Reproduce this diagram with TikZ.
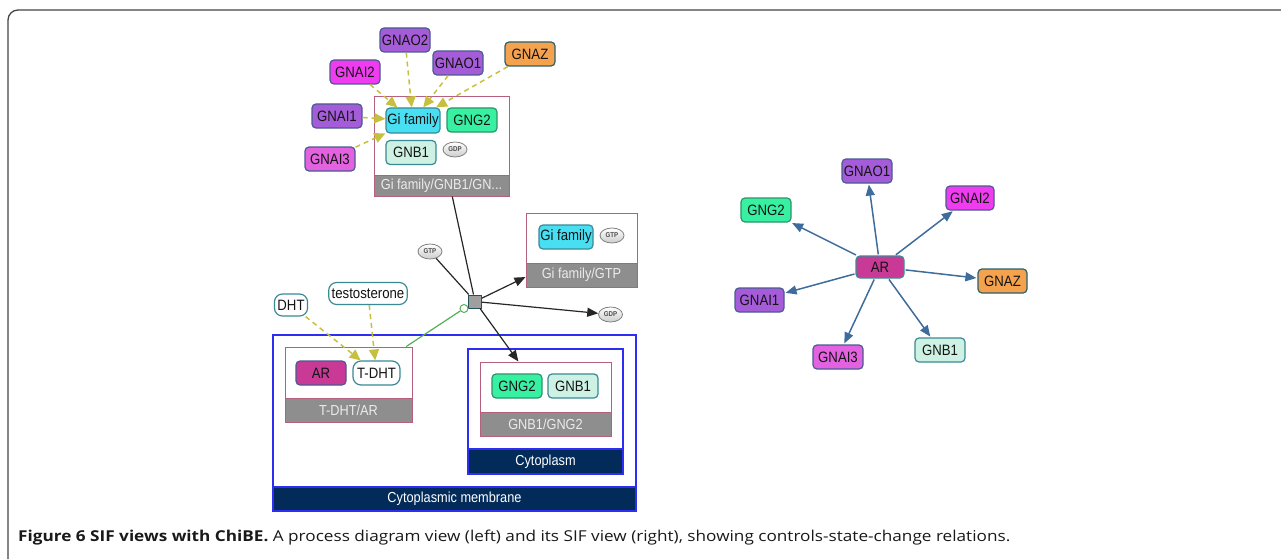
\documentclass[tikz,border=0pt]{standalone}
\usepackage{fontspec}
\usepackage{graphicx}
\usetikzlibrary{arrows.meta,shapes.geometric}
\newfontfamily\diag[FakeStretch=0.88]{Liberation Sans}
\newfontfamily\capfont{Open Sans}
\definecolor{cpurp}{HTML}{A45CD8}
\definecolor{cmag}{HTML}{F03CF0}
\definecolor{cpink}{HTML}{E262E0}
\definecolor{corange}{HTML}{F5A24F}
\definecolor{ccyan}{HTML}{48DFF2}
\definecolor{cgreen}{HTML}{38F0A2}
\definecolor{cmint}{HTML}{CDF1E2}
\definecolor{car}{HTML}{C93A96}
\definecolor{bdblue}{HTML}{4B5A92}
\definecolor{bdteal}{HTML}{3A8A96}
\definecolor{bdgreen}{HTML}{2C9468}
\definecolor{cplxbd}{HTML}{B4607E}
\definecolor{bandgrey}{HTML}{8E8E8E}
\definecolor{compbd}{HTML}{2E2EF2}
\definecolor{navy}{HTML}{022B5A}
\definecolor{olive}{HTML}{C7C03E}
\definecolor{sifblue}{HTML}{3E6C9C}
\definecolor{pgreen}{HTML}{55B055}
\definecolor{framegrey}{HTML}{444444}
\tikzset{
  mol/.style={rectangle, rounded corners=4pt, minimum width=50pt, minimum height=24pt,
    inner sep=0pt, line width=1.2pt, font=\diag\fontsize{15}{15}\selectfont, text=black!92},
  smallmol/.style={rectangle, rounded corners=8pt, minimum height=22pt, inner sep=3pt,
    line width=1.2pt, draw=bdteal, fill=white, font=\diag\fontsize{15}{15}\selectfont, text=black!92},
  cofactor/.style={ellipse, minimum width=24pt, minimum height=15pt, inner sep=0pt,
    draw=gray, line width=0.8pt, top color=white, bottom color=gray!40,
    font=\diag\fontsize{7}{7}\selectfont\bfseries, text=black!70},
  cplx/.style={rectangle, draw=cplxbd, line width=1pt, fill=white, inner sep=0pt},
  band/.style={rectangle, draw=cplxbd, line width=1pt, fill=bandgrey, inner sep=0pt,
    text=white!92!black, font=\diag\fontsize{14.5}{14.5}\selectfont},
  comp/.style={rectangle, draw=compbd, line width=1.2pt, fill=white, inner sep=0pt},
  compband/.style={rectangle, draw=compbd, line width=1.2pt, fill=navy, inner sep=0pt,
    text=white, font=\diag\fontsize{14.5}{14.5}\selectfont},
  dashedge/.style={draw=olive, line width=1.5pt, dash pattern=on 5pt off 4pt,
    -{Triangle[length=11pt,width=10pt,fill=olive]}},
  blackedge/.style={draw=black!85, line width=1.2pt},
  blackarrow/.style={blackedge, -{Triangle[length=11pt,width=9pt]}},
  sifedge/.style={draw=sifblue, line width=1.5pt, -{Triangle[length=11pt,width=9pt]}, shorten >=1pt, shorten <=1pt},
}
\begin{document}
\begin{tikzpicture}[x=1pt,y=-1pt]
\useasboundingbox (0,0) rectangle (1281,559);
% frame
\draw[framegrey, line width=1.3pt] (8,559) -- (8,20) arc[start angle=180, end angle=270, radius=10] -- (1281,10);

% compartments
\node[comp, minimum width=363, minimum height=176] (memb) at (454.5,423) {};
\node[compband, minimum width=363, minimum height=24, anchor=south] (membl) at (memb.south) {Cytoplasmic membrane};
\node[comp, minimum width=155, minimum height=125] (cyto) at (545.5,411.5) {};
\node[compband, minimum width=155, minimum height=25, anchor=south] (cytol) at (cyto.south) {Cytoplasm};

% complexes
\node[cplx, minimum width=135, minimum height=99] (c1) at (441.5,146.5) {};
\node[band, minimum width=135, minimum height=21, anchor=south] (c1l) at (c1.south) {Gi family/GNB1/GN...};
\node[cplx, minimum width=111, minimum height=74] (c2) at (581.5,250) {};
\node[band, minimum width=111, minimum height=24, anchor=south] (c2l) at (c2.south) {Gi family/GTP};
\node[cplx, minimum width=127, minimum height=75] (c3) at (348.5,384.5) {};
\node[band, minimum width=127, minimum height=24, anchor=south] (c3l) at (c3.south) {T-DHT/AR};
\node[cplx, minimum width=131, minimum height=74] (c4) at (545.5,399) {};
\node[band, minimum width=131, minimum height=24, anchor=south] (c4l) at (c4.south) {GNB1/GNG2};

% left molecules
\node[mol, fill=cpurp, draw=bdblue] (gnao2) at (405,40) {GNAO2};
\node[mol, fill=cmag, draw=bdblue] (gnai2) at (355,72) {GNAI2};
\node[mol, fill=cpurp, draw=bdblue] (gnao1) at (458,63) {GNAO1};
\node[mol, fill=corange, draw=bdteal!70!black] (gnaz) at (530,54) {GNAZ};
\node[mol, fill=cpurp, draw=bdblue] (gnai1) at (337,116) {GNAI1};
\node[mol, fill=cpink, draw=bdblue] (gnai3) at (330,159) {GNAI3};
\node[mol, fill=ccyan, draw=bdteal, minimum width=54pt, minimum height=25pt] (gif) at (413,120.5) {Gi family};
\node[mol, fill=cgreen, draw=bdgreen] (gng2a) at (472,120) {GNG2};
\node[mol, fill=cmint, draw=bdteal] (gnb1a) at (411,152.5) {GNB1};
\node[cofactor] (gdp1) at (455,149.5) {GDP};

\node[mol, fill=ccyan, draw=bdteal, minimum width=54pt] (gif2) at (566,237) {Gi family};
\node[cofactor] (gtp2) at (612,235.5) {GTP};
\node[cofactor] (gtp) at (430,251.5) {GTP};
\node[cofactor] (gdp2) at (610.5,314.5) {GDP};

\node[smallmol, minimum width=32pt] (dht) at (291,305) {DHT};
\node[smallmol, minimum width=78pt] (testo) at (368,293.5) {testosterone};
\node[mol, fill=car, draw=bdblue] (ara) at (321,373) {AR};
\node[smallmol, minimum width=47pt, minimum height=24pt, inner sep=0pt] (tdht) at (376.5,373) {T-DHT};
\node[mol, fill=cgreen, draw=bdgreen] (gng2b) at (517,386) {GNG2};
\node[mol, fill=cmint, draw=bdteal] (gnb1b) at (573,386) {GNB1};

% process
\node[rectangle, draw=bdteal!60!black, fill=gray!75, line width=1pt, minimum size=13pt, inner sep=0pt] (proc) at (475,301.5) {};
\node[circle, draw=pgreen, fill=white, line width=1pt, minimum size=8pt, inner sep=0pt] (ctl) at (464,308.5) {};

% left edges
\draw[dashedge] (gnao2) -- (gif);
\draw[dashedge] (gnai2) -- (gif);
\draw[dashedge] (gnao1) -- (gif);
\draw[dashedge] (gnaz) -- (gif);
\draw[dashedge] (gnai1) -- (gif);
\draw[dashedge] (gnai3) -- (gif);
\draw[dashedge] (dht) -- (tdht);
\draw[dashedge] (testo) -- (tdht);
\draw[blackedge] (c1) -- (proc);
\draw[blackedge] (gtp) -- (proc);
\draw[blackarrow] (proc) -- (c2);
\draw[blackarrow] (proc) -- (gdp2);
\draw[blackarrow] (proc) -- (c4);
\draw[draw=pgreen, line width=1.2pt] (c3) -- (ctl);

% SIF view
\node[mol, fill=car, draw=bdteal, minimum width=48pt, minimum height=22pt] (ar) at (880,267) {AR};
\node[mol, fill=cpurp, draw=bdblue] (s_gnao1) at (867,171) {GNAO1};
\node[mol, fill=cmag, draw=bdblue, minimum width=48pt] (s_gnai2) at (970,198) {GNAI2};
\node[mol, fill=cgreen, draw=bdgreen] (s_gng2) at (766,210) {GNG2};
\node[mol, fill=corange, draw=bdteal!70!black, minimum width=49pt] (s_gnaz) at (1002.5,281) {GNAZ};
\node[mol, fill=cpurp, draw=bdblue, minimum width=49pt] (s_gnai1) at (759.5,300) {GNAI1};
\node[mol, fill=cpink, draw=bdblue] (s_gnai3) at (838,357) {GNAI3};
\node[mol, fill=cmint, draw=bdteal] (s_gnb1) at (940,350) {GNB1};
\draw[sifedge] (ar) -- (s_gnao1);
\draw[sifedge] (ar) -- (s_gnai2);
\draw[sifedge] (ar) -- (s_gng2);
\draw[sifedge] (ar) -- (s_gnaz);
\draw[sifedge] (ar) -- (s_gnai1);
\draw[sifedge] (ar) -- (s_gnai3);
\draw[sifedge] (ar) -- (s_gnb1);

% caption
\node[anchor=base west, inner sep=0pt, text=black!90] (caption) at (18,541)
  {\resizebox{992pt}{\height}{\capfont\fontsize{15}{15}\selectfont\textbf{Figure 6 SIF views with ChiBE.} A process diagram view (left) and its SIF view (right), showing controls-state-change relations.}};
\end{tikzpicture}
\end{document}
